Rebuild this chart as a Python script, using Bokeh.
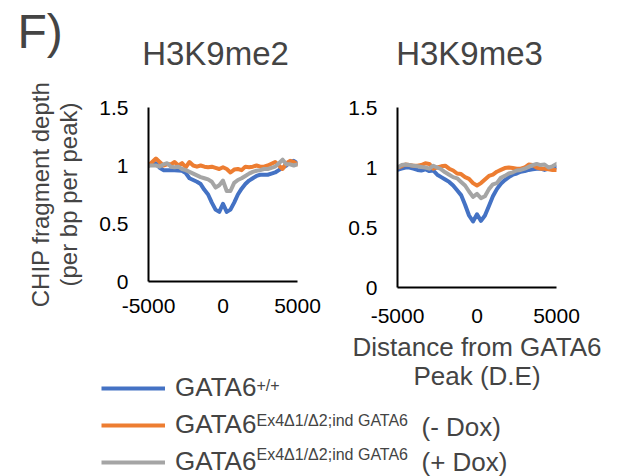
from bokeh.plotting import figure
from bokeh.models import (ColumnDataSource, Range1d, FixedTicker, Label, Legend, LegendItem)
from bokeh.layouts import row, column
from bokeh.embed import file_html
from bokeh.resources import INLINE

FONT = "Liberation Sans"

# ---- data ----
distance = [-5000, -4750, -4500, -4250, -4000, -3750, -3500, -3250, -3000, -2750,
            -2500, -2250, -2000, -1750, -1500, -1250, -1000, -750, -500, -250,
            0, 250, 500, 750, 1000, 1250, 1500, 1750, 2000, 2250,
            2500, 2750, 3000, 3250, 3500, 3750, 4000, 4250, 4500, 4750, 5000]

me2_wt = [1.0, 1.01, 1.02, 0.98, 0.96, 0.96, 0.96, 0.96, 0.957, 0.955,
          0.935, 0.89, 0.875, 0.86, 0.84, 0.79, 0.75, 0.68, 0.62, 0.60,
          0.67, 0.60, 0.62, 0.68, 0.75, 0.80, 0.84, 0.87, 0.89, 0.91,
          0.92, 0.92, 0.92, 0.93, 0.94, 0.96, 0.98, 1.0, 1.03, 1.04, 1.02]
me2_minus = [1.0, 1.03, 1.06, 1.03, 1.0, 1.01, 1.01, 1.03, 1.0, 1.02,
             0.985, 1.03, 1.0, 0.99, 1.0, 0.99, 0.985, 0.99, 0.98, 0.97,
             0.985, 0.97, 0.94, 0.965, 0.97, 0.96, 0.99, 0.985, 0.99, 1.0,
             0.99, 0.99, 1.0, 1.015, 1.03, 1.0, 0.97, 1.02, 1.04, 1.03, 1.01]
me2_plus = [1.0, 1.0, 1.0, 0.99, 1.01, 1.02, 0.99, 0.985, 0.99, 0.97,
            0.96, 0.945, 0.93, 0.915, 0.90, 0.89, 0.88, 0.86, 0.81, 0.83,
            0.87, 0.78, 0.78, 0.85, 0.875, 0.89, 0.91, 0.93, 0.945, 0.955,
            0.96, 0.97, 0.97, 0.98, 0.99, 1.02, 1.05, 1.01, 1.01, 1.0, 1.01]

me3_wt = [0.98, 0.99, 1.0, 1.0, 0.99, 0.98, 0.975, 0.985, 0.97, 0.975,
          0.94, 0.92, 0.90, 0.88, 0.85, 0.81, 0.77, 0.69, 0.60, 0.55,
          0.61, 0.555, 0.60, 0.68, 0.76, 0.82, 0.865, 0.895, 0.92, 0.94,
          0.95, 0.965, 0.97, 0.98, 0.985, 0.99, 0.99, 0.98, 0.99, 0.995, 1.0]
me3_minus = [1.0, 1.01, 1.025, 1.02, 1.015, 1.015, 1.02, 1.035, 1.03, 0.99,
             1.0, 1.01, 1.015, 0.99, 0.975, 0.95, 0.945, 0.92, 0.905, 0.87,
             0.85, 0.87, 0.90, 0.93, 0.94, 0.965, 0.98, 0.995, 1.0, 0.995,
             0.99, 0.99, 1.0, 1.025, 1.02, 1.0, 0.99, 0.99, 0.985, 0.98, 0.98]
me3_plus = [1.0, 1.02, 1.025, 1.02, 1.015, 1.01, 1.005, 1.0, 0.99, 1.015,
            1.0, 0.985, 0.96, 0.94, 0.92, 0.91, 0.88, 0.85, 0.80, 0.755,
            0.78, 0.745, 0.76, 0.82, 0.86, 0.87, 0.915, 0.93, 0.95, 0.96,
            0.975, 0.98, 0.99, 1.005, 1.02, 1.03, 1.02, 1.025, 1.0, 1.01, 1.03]

x_ticks = [-5000, 0, 5000]
x_tick_labels = ["-5000", "0", "5000"]
y_ticks = [0, 0.5, 1, 1.5]
panel_label = "F)"
titles = ["H3K9me2", "H3K9me3"]
series_names = ["wt", "minus", "plus"]
colors = ["#4472C4", "#ED7D31", "#A5A5A5"]
legend_main = "GATA6"
legend_sup = ["+/+", "Ex4\u03941/\u03942;ind GATA6", "Ex4\u03941/\u03942;ind GATA6"]
legend_suffix = ["", "(- Dox)", "(+ Dox)"]
y_label = "CHIP fragment depth\n(per bp per peak)"
x_label = "Distance from GATA6\nPeak (D.E)"

src_me2 = ColumnDataSource(dict(x=distance, wt=me2_wt, minus=me2_minus, plus=me2_plus))
src_me3 = ColumnDataSource(dict(x=distance, wt=me3_wt, minus=me3_minus, plus=me3_plus))


def blank_fig(width, height, **kw):
    f = figure(width=width, height=height, x_range=Range1d(20000, 30000),
               y_range=Range1d(0, 1.5), output_backend="svg", toolbar_location=None,
               min_border=0, x_axis_location=None, y_axis_location=None, **kw)
    f.outline_line_color = None
    f.grid.visible = False
    f.background_fill_color = None
    f.border_fill_color = None
    return f


# ---- header: panel letter and panel titles ----
header = blank_fig(620, 76)
header.add_layout(Label(x=17, y=45, x_units="screen", y_units="screen", text=panel_label,
                        text_font=FONT, text_font_size="48px", text_baseline="alphabetic"))
for cx, t in zip([215, 469], titles):
    header.add_layout(Label(x=cx, y=23, x_units="screen", y_units="screen", text=t,
                            text_font=FONT, text_font_size="33px", text_align="center",
                            text_baseline="alphabetic"))


def make_panel(src, width, height, mbl, mbr, mbt, mbb, xstandoff):
    p = figure(width=width, height=height, x_range=Range1d(-5000, 5000),
               y_range=Range1d(0, 1.5), output_backend="svg", toolbar_location=None,
               min_border_left=mbl, min_border_right=mbr, min_border_top=mbt,
               min_border_bottom=mbb)
    p.outline_line_color = None
    p.grid.visible = False
    p.background_fill_color = None
    p.border_fill_color = None
    for name, c in zip(series_names, colors):
        p.line("x", name, source=src, line_color=c, line_width=4,
               line_join="round", line_cap="round")
    for ax in (p.xaxis[0], p.yaxis[0]):
        ax.axis_line_color = "black"
        ax.axis_line_width = 2
        ax.major_tick_line_color = None
        ax.minor_tick_line_color = None
        ax.major_tick_out = 0
        ax.major_tick_in = 0
        ax.minor_tick_out = 0
        ax.major_label_text_font = FONT
        ax.major_label_text_font_size = "21px"
        ax.major_label_text_color = "black"
    p.xaxis.ticker = FixedTicker(ticks=x_ticks)
    p.xaxis.major_label_overrides = dict(zip(x_ticks, x_tick_labels))
    p.yaxis.ticker = FixedTicker(ticks=y_ticks)
    p.yaxis.major_label_standoff = 20
    p.xaxis.major_label_standoff = xstandoff
    return p


p1 = make_panel(src_me2, 328, 324, 148, 31, 31, 119, 17)
p1.yaxis.axis_label = y_label
p1.yaxis.axis_label_text_font = FONT
p1.yaxis.axis_label_text_font_size = "24px"
p1.yaxis.axis_label_text_font_style = "normal"
p1.yaxis.axis_label_text_line_height = 1.05
p1.yaxis.axis_label_standoff = 14

p2 = make_panel(src_me3, 292, 330, 69, 64, 31, 119, 21)
p2.xaxis.axis_label = x_label
p2.xaxis.axis_label_text_font = FONT
p2.xaxis.axis_label_text_font_size = "26px"
p2.xaxis.axis_label_text_font_style = "normal"
p2.xaxis.axis_label_text_line_height = 0.97
p2.xaxis.axis_label_standoff = 6

# ---- legend panel ----
p3 = blank_fig(596, 106, margin=(-36, 0, 0, 0))
items = []
for name, c in zip(series_names, colors):
    r = p3.line("x", name, source=src_me2, line_color=c, line_width=4)
    items.append(LegendItem(label=legend_main, renderers=[r]))
legend = Legend(items=items, location=(101, -1), orientation="vertical",
                glyph_width=64, glyph_height=20, label_standoff=10, spacing=6,
                padding=0, margin=0, border_line_color=None, background_fill_alpha=0,
                label_text_font=FONT, label_text_font_size="26px", label_height=20)
p3.add_layout(legend)

sup_y = [91, 56.5, 22]
suffix_y = [84, 49.5, 15]
for i in range(3):
    p3.add_layout(Label(x=256, y=sup_y[i], x_units="screen", y_units="screen",
                        text=legend_sup[i], text_font=FONT, text_font_size="16px",
                        text_baseline="alphabetic"))
    if legend_suffix[i]:
        p3.add_layout(Label(x=421, y=suffix_y[i], x_units="screen", y_units="screen",
                            text=legend_suffix[i], text_font=FONT, text_font_size="26px",
                            text_baseline="alphabetic"))

layout = column(header, row(p1, p2), p3)
open("out.html", "w").write(file_html(layout, INLINE))
